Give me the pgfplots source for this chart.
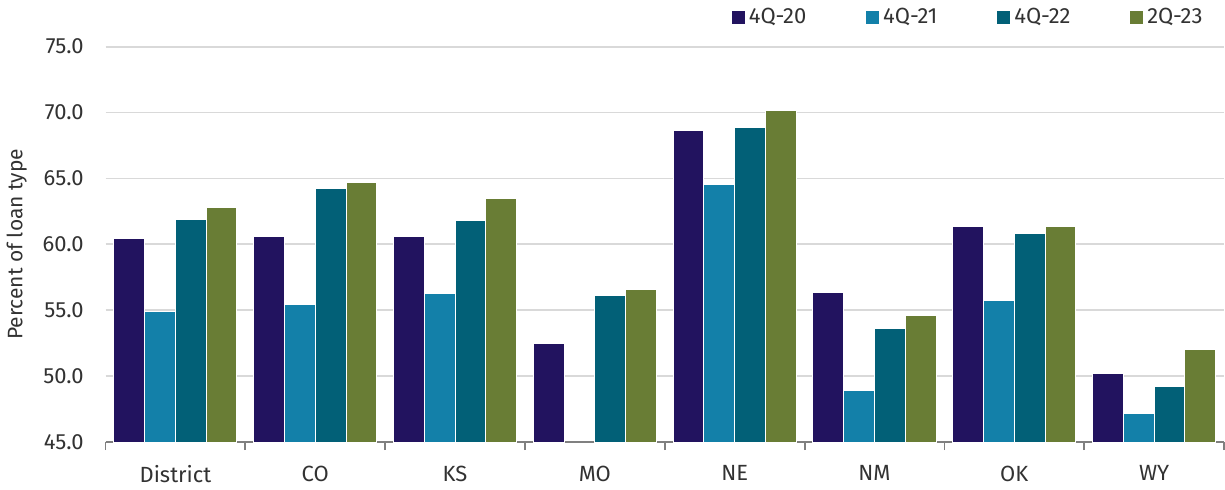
\documentclass[border=0pt]{standalone}
\usepackage{fontspec}
\setmainfont{Fira Sans}
\usepackage{pgfplots}
\pgfplotsset{compat=1.18}
\definecolor{cA}{RGB}{34,19,95}
\definecolor{cB}{RGB}{19,128,169}
\definecolor{cC}{RGB}{2,96,119}
\definecolor{cD}{RGB}{105,125,53}
\definecolor{txt}{RGB}{50,50,50}
\begin{document}
\begin{tikzpicture}
\begin{axis}[
  scale only axis, width=560pt, height=198pt,
  ybar=0pt, bar width=0.22,
  xmin=-0.5, xmax=7.5, ymin=45, ymax=75,
  xtick={0,...,7},
  xticklabels={District,CO,KS,MO,NE,NM,OK,WY},
  ytick={45,50,...,75},
  axis x line*=bottom, axis y line*=left,
  y axis line style={draw=none},
  x axis line style={draw=black!50, line width=0.9pt},
  major tick style={draw=none},
  extra x ticks={-0.5,0.5,...,7.5},
  extra x tick labels={},
  extra x tick style={tick align=outside, major tick length=4pt, major tick style={draw=black!50, line width=0.9pt}, tick label style={inner sep=0pt}},
  ymajorgrids, grid style={draw=black!15, line width=0.9pt},
  tick label style={font=\fontsize{11}{13}\selectfont, text=txt},
  y tick label style={xshift=-7.5pt},
  x tick label style={yshift=-4pt},
  /pgf/number format/assume math mode=true,
  yticklabel={\pgfmathprintnumber[fixed,fixed zerofill,precision=1]{\tick}},
  ylabel={Percent of loan type},
  ylabel style={font=\fontsize{10.5}{12}\selectfont, text=txt, yshift=1pt},
  every axis plot/.append style={draw=white, line width=0.5pt},
  legend style={draw=none, at={(0.99,1.03)}, anchor=south east, legend columns=4,
    font=\fontsize{11}{13}\selectfont, text=txt,
    /tikz/every even column/.append style={column sep=28pt}},
  legend image code/.code={\fill[#1, draw=none] (0pt,-3.25pt) rectangle (6.5pt,3.25pt);},
  clip=false,
]
\addplot[fill=cA] coordinates {(0,60.45) (1,60.56) (2,60.6) (3,52.48) (4,68.67) (5,56.36) (6,61.34) (7,50.18)};
\addplot[fill=cB] coordinates {(0,54.9) (1,55.4) (2,56.24) (4,64.55) (5,48.94) (6,55.71) (7,47.17)};
\addplot[fill=cC] coordinates {(0,61.9) (1,64.27) (2,61.82) (3,56.1) (4,68.9) (5,53.6) (6,60.86) (7,49.22)};
\addplot[fill=cD] coordinates {(0,62.8) (1,64.67) (2,63.5) (3,56.57) (4,70.13) (5,54.58) (6,61.39) (7,52.0)};
\legend{4Q-20,4Q-21,4Q-22,2Q-23}
\end{axis}
\end{tikzpicture}
\end{document}
